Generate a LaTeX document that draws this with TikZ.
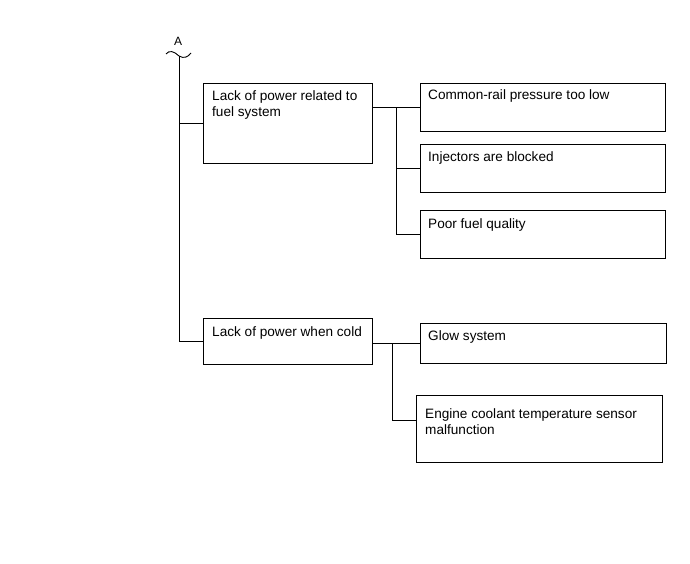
\documentclass[tikz,border=0pt]{standalone}
\usepackage{fontspec}
\setmainfont{Liberation Sans}
\usetikzlibrary{calc}
\tikzset{
  box/.style={draw=black, line width=0.9pt, anchor=north west, inner sep=0pt, fill=white},
  txt/.style={anchor=base west, inner sep=0pt, align=left, font=\fontsize{13.6}{16}\selectfont},
  conn/.style={draw=black, line width=0.9pt}
}
\begin{document}
\begin{tikzpicture}[x=1pt,y=-1pt]
\useasboundingbox (0,0) rectangle (690,564);
% boxes
\node[box, minimum width=169pt, minimum height=80pt] (b1) at (203,83) {};
\node[box, minimum width=245pt, minimum height=48pt] (b2) at (420,83) {};
\node[box, minimum width=245pt, minimum height=48pt] (b3) at (420,144) {};
\node[box, minimum width=245pt, minimum height=48pt] (b4) at (420,210) {};
\node[box, minimum width=169pt, minimum height=46pt] (b5) at (203,318) {};
\node[box, minimum width=246pt, minimum height=40pt] (b6) at (420,323) {};
\node[box, minimum width=246pt, minimum height=67pt] (b7) at (416,395) {};
% texts (base = baseline of the last line)
\node[txt] (t1) at ($(b1.north west)+(9,34)$) {Lack of power related to\\fuel system};
\node[txt] (t2) at ($(b2.north west)+(8,17)$) {Common-rail pressure too low};
\node[txt] (t3) at ($(b3.north west)+(8,18)$) {Injectors are blocked};
\node[txt] (t4) at ($(b4.north west)+(8,18)$) {Poor fuel quality};
\node[txt] (t5) at ($(b5.north west)+(9,18)$) {Lack of power when cold};
\node[txt] (t6) at ($(b6.north west)+(8,17)$) {Glow system};
\node[txt] (t7) at ($(b7.north west)+(9,39)$) {Engine coolant temperature sensor\\malfunction};
% break symbol
\node[anchor=base, inner sep=0pt, font=\fontsize{12}{13}\selectfont] (A) at (178,46) {A};
\coordinate (wl) at (166,54);
\coordinate (wm) at (179,56);
\coordinate (wr) at (191,53);
\draw[conn] (wl) .. controls (169,50) and (174,51) .. (wm) .. controls (184,59) and (188,57) .. (wr);
% trunk
\draw[conn] (wm) |- (b5.west);
\draw[conn] (wm |- b1.west) -- (b1.west);
% first group
\coordinate (v1) at (396,0);
\draw[conn] (b1.east |- b2.west) -- (b2.west);
\draw[conn] (v1 |- b2.west) |- (b4.west);
\draw[conn] (v1 |- b3.west) -- (b3.west);
% second group
\coordinate (v2) at (392,0);
\coordinate (b7in) at ($(b7.north west)+(0,25)$);
\draw[conn] (b5.east |- b6.west) -- (b6.west);
\draw[conn] (v2 |- b6.west) |- (b7in);
\end{tikzpicture}
\end{document}
